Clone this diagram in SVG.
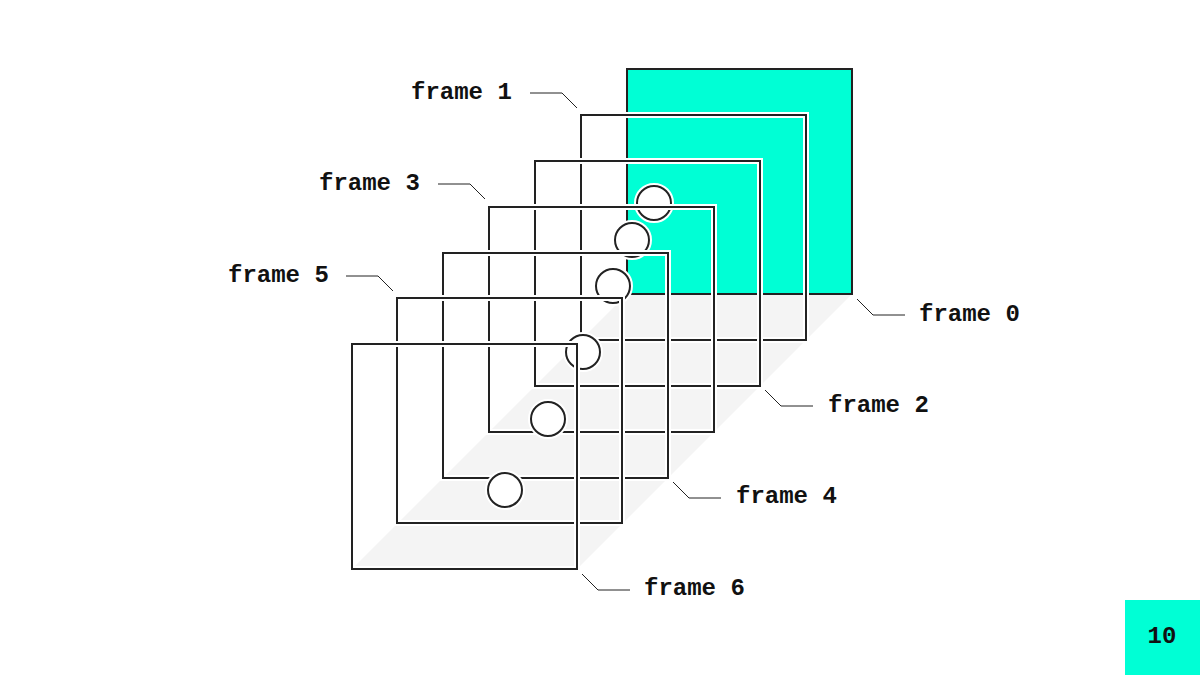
<svg xmlns="http://www.w3.org/2000/svg" width="1200" height="675" viewBox="0 0 1200 675">
<style>
.fr{fill:none;stroke:#222;stroke-width:2}
.halo{fill:none;stroke:#fff;stroke-width:6}
.ball{fill:#fff;stroke:#222;stroke-width:2}
.bh{fill:#fff;stroke:#fff;stroke-width:6}
.lb{font-family:"Liberation Mono",monospace;font-weight:bold;font-size:24px;fill:#111}
.ld{fill:none;stroke:#222;stroke-width:1}
</style>
<defs>
<g id="sq"><rect class="halo" x="0" y="0" width="225" height="225"/><rect class="fr" x="0" y="0" width="225" height="225"/></g>
<g id="bl"><circle class="bh" r="17"/><circle class="ball" r="17"/></g>
</defs>
<rect width="1200" height="675" fill="#fff"/>
<polygon points="627,294 852,294 577,569 352,569" fill="#f4f4f4"/>
<g id="frame0"><rect x="627" y="69" width="225" height="225" fill="#00ffd5" stroke="#222" stroke-width="2"/><use href="#bl" x="654" y="203"/></g>
<g id="frame1"><use href="#sq" x="581" y="115"/><use href="#bl" x="632" y="240"/></g>
<g id="frame2"><use href="#sq" x="535" y="161"/><use href="#bl" x="613" y="286"/></g>
<g id="frame3"><use href="#sq" x="489" y="207"/><use href="#bl" x="583" y="352"/></g>
<g id="frame4"><use href="#sq" x="443" y="253"/><use href="#bl" x="548" y="419"/></g>
<g id="frame5"><use href="#sq" x="397" y="298"/><use href="#bl" x="505" y="490"/></g>
<g id="frame6"><use href="#sq" x="352" y="344"/></g>
<g id="connectors">
<polyline class="ld" points="530,93 562,93 577,108"/>
<polyline class="ld" points="438,184 470,184 485,199"/>
<polyline class="ld" points="346,276 378,276 393,291"/>
<polyline class="ld" points="857,299 873,315 905,315"/>
<polyline class="ld" points="765,390 781,406 813,406"/>
<polyline class="ld" points="673,482 689,498 721,498"/>
<polyline class="ld" points="582,574 598,590 630,590"/>
</g>
<g id="labels">
<text class="lb" x="411" y="99">frame 1</text>
<text class="lb" x="319" y="190">frame 3</text>
<text class="lb" x="228" y="282">frame 5</text>
<text class="lb" x="919" y="321">frame 0</text>
<text class="lb" x="828" y="412">frame 2</text>
<text class="lb" x="736" y="503">frame 4</text>
<text class="lb" x="644" y="595">frame 6</text>
</g>
<g id="page"><rect x="1125" y="600" width="75" height="75" fill="#00ffd5"/><text class="lb" x="1162" y="643" text-anchor="middle">10</text></g>
</svg>
